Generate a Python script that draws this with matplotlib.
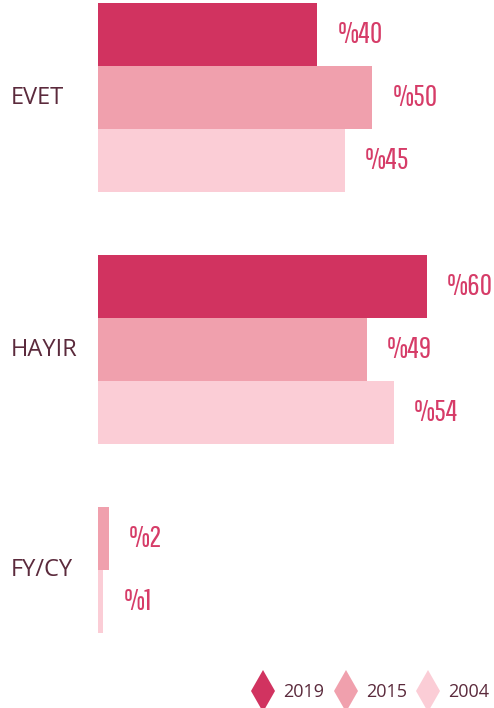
import numpy as np
import matplotlib
matplotlib.use("Agg")
import matplotlib.pyplot as plt
from matplotlib.lines import Line2D
from matplotlib.transforms import blended_transform_factory

# data
categories = ["EVET", "HAYIR", "FY/CY"]
years = ["2019", "2015", "2004"]
val_2019 = [40, 60, None]
val_2015 = [50, 49, 2]
val_2004 = [45, 54, 1]
colors = ["#d13360", "#f0a0ad", "#fbcdd6"]

label_color = "#d63c68"
cat_color = "#5b2a3c"

W, H = 494, 708
fig = plt.figure(figsize=(W / 100, H / 100), dpi=100)
# bars span from y=3 to y=633 px, x from 98 px to right edge
ax = fig.add_axes([98 / W, 1 - 633 / H, 1 - 98 / W, 630 / H])

series = [val_2019, val_2015, val_2004]
slot = 0
centers = []
for ci, cat in enumerate(categories):
    used = []
    for si, vals in enumerate(series):
        v = vals[ci]
        if v is None:
            continue
        y = slot + 0.5
        ax.barh(y, v, height=1.0, color=colors[si], linewidth=0)
        ax.text(v + 3.7, y, "%{}".format(v), color=label_color, fontsize=22,
                family="Pathway Gothic One", ha="left", va="center")
        used.append(y)
        slot += 1
    centers.append(np.mean(used))
    slot += 1  # empty slot between groups

ax.set_ylim(10, 0)
ax.set_xlim(0, (W - 98) / 5.48)
ax.axis("off")

trans = blended_transform_factory(fig.transFigure, ax.transData)
for cat, c in zip(categories, centers):
    ax.text(11 / W, c, cat, transform=trans, color=cat_color, fontsize=17,
            family="Open Sans", ha="left", va="center")

handles = [Line2D([], [], marker="d", linestyle="none", markersize=21,
                  markerfacecolor=col, markeredgewidth=0) for col in colors]
fig.legend(handles, years, loc="center right", bbox_to_anchor=(1.0 + 8 / W, 1 - 692 / H),
           ncol=3, frameon=False, handletextpad=0.6, columnspacing=0.7,
           handlelength=1.0, prop={"family": "Open Sans", "size": 13},
           labelcolor=cat_color, borderpad=0.2)

fig.savefig("out.png", dpi=100)
